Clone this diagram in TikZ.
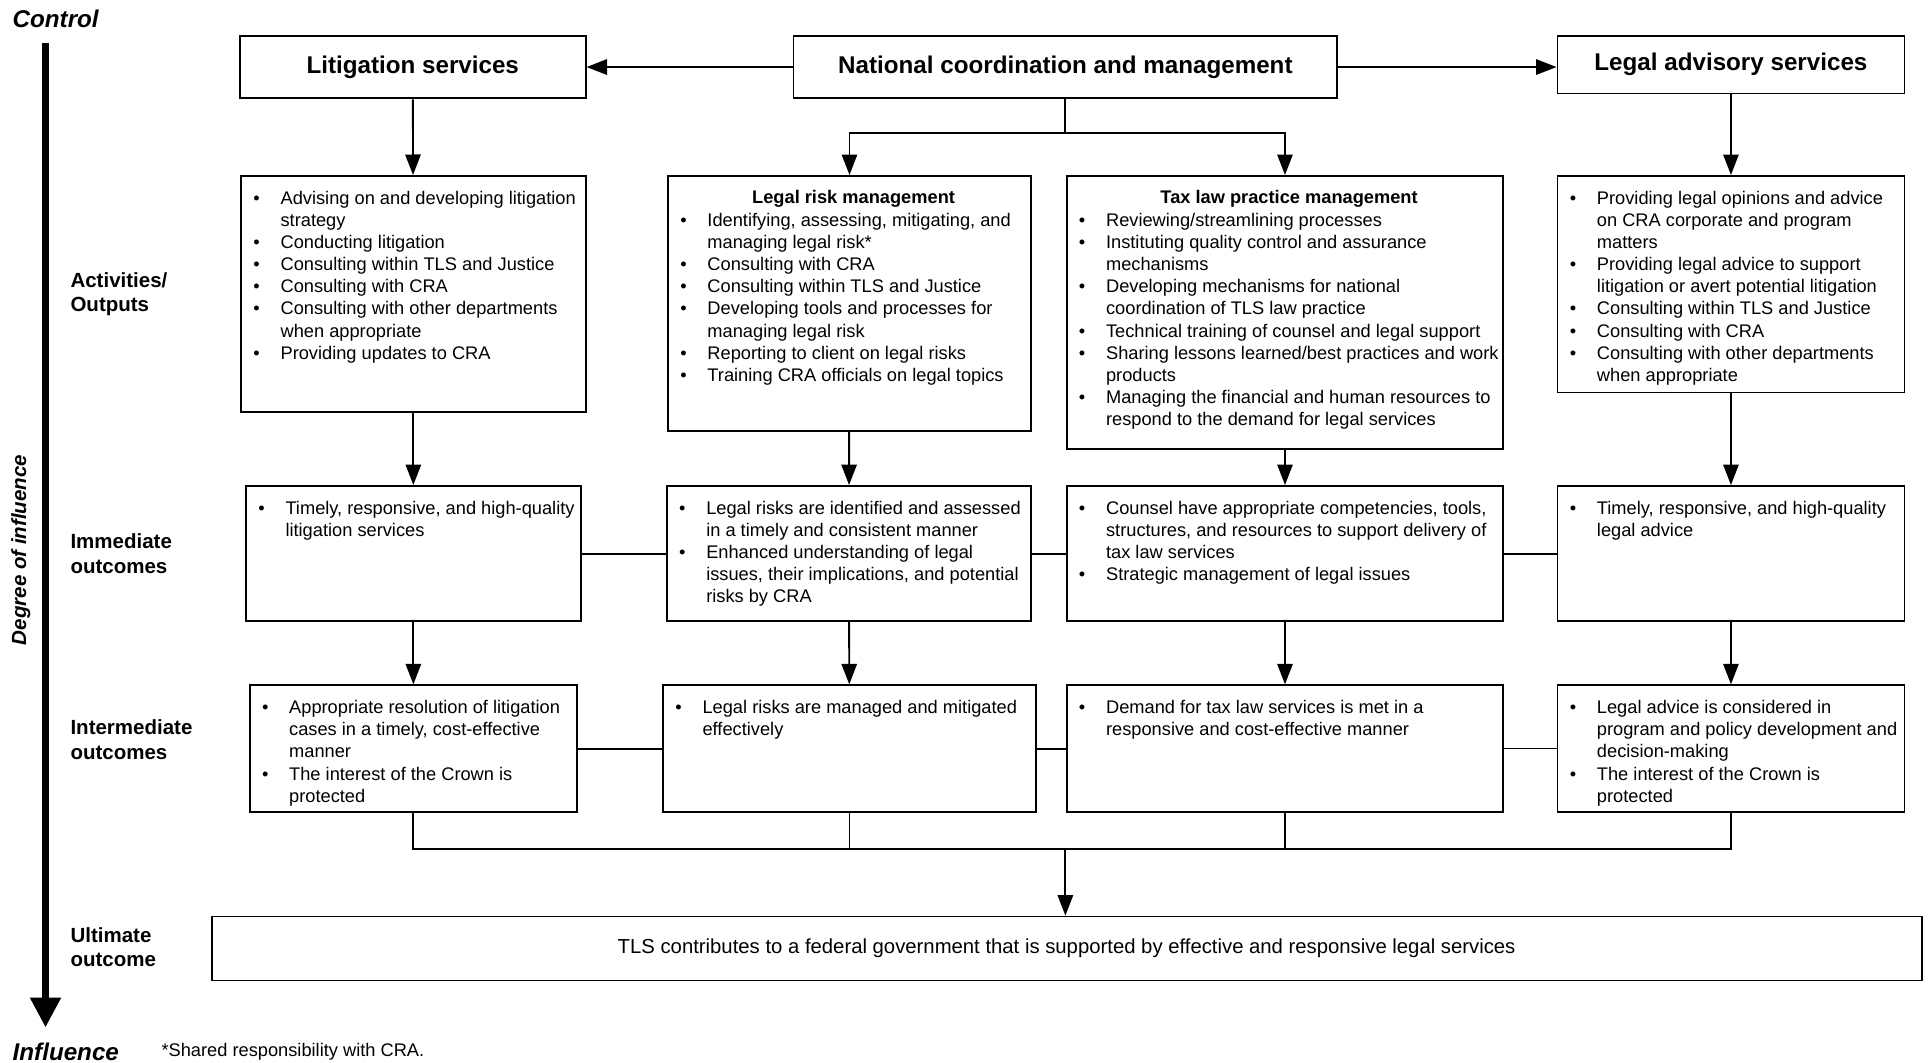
\documentclass[tikz,border=0pt]{standalone}
\usepackage{fontspec}
\setmainfont{Liberation Sans}
\usetikzlibrary{fit,arrows.meta}
\newcommand{\itm}{\strut\makebox[13.25pt][l]{\textbullet}}
\newcommand{\cnt}{\strut\hspace*{13.25pt}}

\begin{document}
\begin{tikzpicture}[
      x=0.6pt, y=-0.6pt,
      font=\fontsize{8.9}{10.8}\selectfont,
      box/.style={draw, line width=0.9pt, inner sep=0pt},
      hbox/.style={box, font=\fontsize{11.8}{14}\selectfont\bfseries},
      txt/.style={anchor=north west, inner sep=0pt, align=left},
      subhead/.style={anchor=base, inner sep=0pt, font=\fontsize{8.9}{10.8}\selectfont\bfseries},
      rowlbl/.style={anchor=west, inner sep=0pt, align=left, font=\fontsize{10}{12}\selectfont\bfseries},
      ends/.style={anchor=west, inner sep=0pt, font=\fontsize{11.8}{14}\selectfont\bfseries\itshape},
      link/.style={line width=0.9pt},
      arr/.style={link, -{Triangle[length=10pt, width=7.5pt]}},
      degarr/.style={line width=3pt, -{Triangle[length=14.4pt, width=14.4pt]}}]
    \useasboundingbox (0,0) rectangle (1568,864);

    % degree of influence
    \node[ends] (control) at (10,15) {Control};
    \node[ends] (influence) at (10,855) {Influence};
    \node[rotate=90, inner sep=0pt, font=\fontsize{10}{12}\selectfont\bfseries\itshape] (degree) at (17,447) {Degree of influence};
    \coordinate (ctl) at (37,35);
    \coordinate (inf) at (37,835);
    \draw[degarr] (ctl) -- (inf);
    \node[anchor=west, inner sep=0pt] (note) at (131,855) {*Shared responsibility with CRA.};

    \node[rowlbl] (rowact) at (57,239) {Activities/\\Outputs};
    \node[rowlbl] (rowimm) at (57,450) {Immediate\\outcomes};
    \node[rowlbl] (rowint) at (57,601) {Intermediate\\outcomes};
    \node[rowlbl] (rowult) at (57,770) {Ultimate\\outcome};

    % services
    \node[hbox, minimum width=168.6pt, minimum height=30.6pt] (lit) at (335.5,54.5) {Litigation services};
    \node[hbox, minimum width=265.2pt, minimum height=30.6pt] (nat) at (866,54.5) {National coordination and management};
    \node[hbox, minimum width=169.2pt, minimum height=28.2pt] (adv) at (1407,52.5) {Legal advisory services};

    % activities / outputs
    \node[box, fit={(196,143) (476,335)}] (act1) {};
    \node[box, fit={(543,143) (838,350)}] (act2) {};
    \node[box, fit={(867,143) (1222,365)}] (act3) {};
    \node[box, fit={(1266,143) (1548,319)}] (act4) {};
    \node[txt] (act1t) at ([xshift=6.25pt, yshift=-6.5pt]act1.north west) {%
      \itm Advising on and developing litigation\\%
      \cnt strategy\\%
      \itm Conducting litigation\\%
      \itm Consulting within TLS and Justice\\%
      \itm Consulting with CRA\\%
      \itm Consulting with other departments\\%
      \cnt when appropriate\\%
      \itm Providing updates to CRA};
    \node[subhead] (act2h) at ([xshift=2pt, yshift=-14pt]act2.north) {Legal risk management};
    \node[txt] (act2t) at ([xshift=6.25pt, yshift=-17.3pt]act2.north west) {%
      \itm Identifying, assessing, mitigating, and\\%
      \cnt managing legal risk*\\%
      \itm Consulting with CRA\\%
      \itm Consulting within TLS and Justice\\%
      \itm Developing tools and processes for\\%
      \cnt managing legal risk\\%
      \itm Reporting to client on legal risks\\%
      \itm Training CRA officials on legal topics};
    \node[subhead] (act3h) at ([xshift=2pt, yshift=-14pt]act3.north) {Tax law practice management};
    \node[txt] (act3t) at ([xshift=6.25pt, yshift=-17.3pt]act3.north west) {%
      \itm Reviewing/streamlining processes\\%
      \itm Instituting quality control and assurance\\%
      \cnt mechanisms\\%
      \itm Developing mechanisms for national\\%
      \cnt coordination of TLS law practice\\%
      \itm Technical training of counsel and legal support\\%
      \itm Sharing lessons learned/best practices and work\\%
      \cnt products\\%
      \itm Managing the financial and human resources to\\%
      \cnt respond to the demand for legal services};
    \node[txt] (act4t) at ([xshift=6.25pt, yshift=-6.5pt]act4.north west) {%
      \itm Providing legal opinions and advice\\%
      \cnt on CRA corporate and program\\%
      \cnt matters\\%
      \itm Providing legal advice to support\\%
      \cnt litigation or avert potential litigation\\%
      \itm Consulting within TLS and Justice\\%
      \itm Consulting with CRA\\%
      \itm Consulting with other departments\\%
      \cnt when appropriate};

    % immediate outcomes
    \node[box, fit={(200,395) (472,505)}] (imm1) {};
    \node[box, fit={(542,395) (838,505)}] (imm2) {};
    \node[box, fit={(867,395) (1222,505)}] (imm3) {};
    \node[box, fit={(1266,395) (1548,505)}] (imm4) {};
    \node[txt] (imm1t) at ([xshift=6.25pt, yshift=-6.5pt]imm1.north west) {%
      \itm Timely, responsive, and high-quality\\%
      \cnt litigation services};
    \node[txt] (imm2t) at ([xshift=6.25pt, yshift=-6.5pt]imm2.north west) {%
      \itm Legal risks are identified and assessed\\%
      \cnt in a timely and consistent manner\\%
      \itm Enhanced understanding of legal\\%
      \cnt issues, their implications, and potential\\%
      \cnt risks by CRA};
    \node[txt] (imm3t) at ([xshift=6.25pt, yshift=-6.5pt]imm3.north west) {%
      \itm Counsel have appropriate competencies, tools,\\%
      \cnt structures, and resources to support delivery of\\%
      \cnt tax law services\\%
      \itm Strategic management of legal issues};
    \node[txt] (imm4t) at ([xshift=6.25pt, yshift=-6.5pt]imm4.north west) {%
      \itm Timely, responsive, and high-quality\\%
      \cnt legal advice};

    % intermediate outcomes
    \node[box, fit={(203,557) (469,660)}] (int1) {};
    \node[box, fit={(539,557) (842,660)}] (int2) {};
    \node[box, fit={(867,557) (1222,660)}] (int3) {};
    \node[box, fit={(1266,557) (1548,660)}] (int4) {};
    \node[txt] (int1t) at ([xshift=6.25pt, yshift=-6.5pt]int1.north west) {%
      \itm Appropriate resolution of litigation\\%
      \cnt cases in a timely, cost-effective\\%
      \cnt manner\\%
      \itm The interest of the Crown is\\%
      \cnt protected};
    \node[txt] (int2t) at ([xshift=6.25pt, yshift=-6.5pt]int2.north west) {%
      \itm Legal risks are managed and mitigated\\%
      \cnt effectively};
    \node[txt] (int3t) at ([xshift=6.25pt, yshift=-6.5pt]int3.north west) {%
      \itm Demand for tax law services is met in a\\%
      \cnt responsive and cost-effective manner};
    \node[txt] (int4t) at ([xshift=6.25pt, yshift=-6.5pt]int4.north west) {%
      \itm Legal advice is considered in\\%
      \cnt program and policy development and\\%
      \cnt decision-making\\%
      \itm The interest of the Crown is\\%
      \cnt protected};

    % ultimate outcome
    \node[box, minimum width=834pt, minimum height=31.2pt, font=\fontsize{9.9}{12}\selectfont] (ult) at (867,771) {TLS contributes to a federal government that is supported by effective and responsive legal services};

    % connectors
    \draw[arr] (nat) -- (lit);
    \draw[arr] (nat.east) -- (nat.east -| adv.west);
    \draw[arr] (lit) -- (act1);
    \draw[arr] (adv) -- (act4);
    \coordinate (split) at (866,108);
    \draw[link] (nat) -- (split);
    \draw[arr] (split) -| (act2);
    \draw[arr] (split) -| (act3);
    \foreach \i in {1,...,4} {
      \draw[arr] (act\i) -- (imm\i);
      \draw[arr] (imm\i) -- (int\i);
    }
    \foreach \a/\b in {1/2,2/3,3/4}
      \draw[link] (imm\a) -- (imm\b);
    \draw[link] (int1) -- (int2);
    \draw[link] (int2) -- (int3);
    \draw[line width=0.5pt] (int3) -- (int4);
    \coordinate (merge) at (866,690);
    \draw[link] (int1) |- (merge) -| (int4);
    \draw[link] (int2) -- (int2 |- merge);
    \draw[link] (int3) -- (int3 |- merge);
    \draw[arr] (merge) -- (merge |- ult.north);
  \end{tikzpicture}
\end{document}
